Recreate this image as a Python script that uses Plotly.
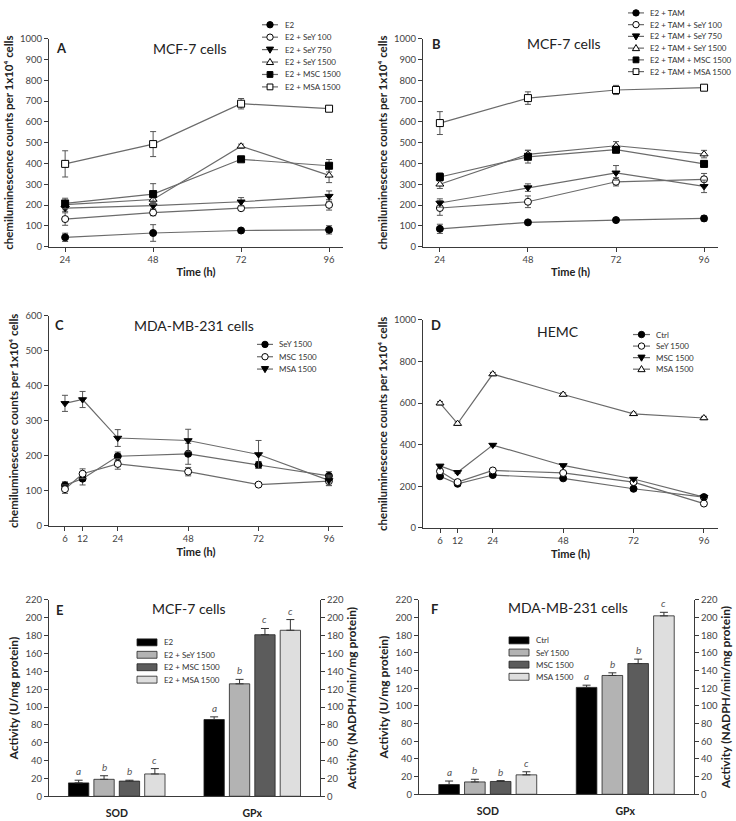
import plotly.graph_objects as go

W, H = 736, 821

# ---------------- data ----------------
A_time = [24, 48, 72, 96]
A_names = ["E2", "E2 + SeY 100", "E2 + SeY 750", "E2 + SeY 1500", "E2 + MSC 1500", "E2 + MSA 1500"]
A_vals = [
    [45, 66, 78, 81],
    [133, 164, 185, 201],
    [185, 197, 216, 243],
    [202, 227, 483, 343],
    [208, 253, 420, 389],
    [398, 493, 687, 663],
]
A_errs = [
    [20, 40, 8, 20],
    [30, 15, 10, 25],
    [15, 15, 20, 25],
    [20, 20, 10, 35],
    [25, 50, 6, 30],
    [63, 60, 25, 10],
]

B_time = [24, 48, 72, 96]
B_names = ["E2 + TAM", "E2 + TAM + SeY 100", "E2 + TAM + SeY 750", "E2 + TAM + SeY 1500",
           "E2 + TAM + MSC 1500", "E2 + TAM + MSA 1500"]
B_vals = [
    [86, 117, 128, 136],
    [186, 216, 312, 324],
    [210, 284, 355, 290],
    [300, 444, 485, 445],
    [335, 432, 466, 398],
    [594, 714, 753, 764],
]
B_errs = [
    [22, 8, 8, 12],
    [35, 28, 20, 28],
    [20, 18, 35, 30],
    [20, 20, 20, 18],
    [20, 30, 15, 15],
    [55, 30, 22, 8],
]

C_time = [6, 12, 24, 48, 72, 96]
C_names = ["SeY 1500", "MSC 1500", "MSA 1500"]
C_vals = [
    [116, 135, 199, 206, 174, 143],
    [105, 149, 177, 155, 118, 128],
    [350, 361, 251, 244, 204, 130],
]
C_errs = [
    [10, 18, 12, 30, 10, 12],
    [12, 14, 15, 12, 2, 12],
    [23, 23, 24, 32, 40, 15],
]

D_time = [6, 12, 24, 48, 72, 96]
D_names = ["Ctrl", "SeY 1500", "MSC 1500", "MSA 1500"]
D_vals = [
    [248, 212, 254, 238, 188, 148],
    [272, 220, 276, 264, 220, 117],
    [298, 267, 398, 300, 235, 148],
    [599, 501, 739, 641, 548, 528],
]
D_errs = [
    [6, 6, 6, 6, 6, 6],
    [6, 6, 6, 6, 6, 6],
    [6, 6, 6, 6, 6, 6],
    [8, 8, 8, 8, 8, 8],
]

enzymes = ["SOD", "GPx"]
E_names = ["E2", "E2 + SeY 1500", "E2 + MSC 1500", "E2 + MSA 1500"]
E_vals = [[15, 86], [19, 126], [17, 181], [25, 186]]
E_errs = [[3, 3], [4, 5], [1, 7], [6, 12]]
E_letters = [["a", "a"], ["b", "b"], ["b", "c"], ["c", "c"]]

F_names = ["Ctrl", "SeY 1500", "MSC 1500", "MSA 1500"]
F_vals = [[11, 121], [14, 134.5], [14.5, 148], [22, 202]]
F_errs = [[4, 2.5], [3, 3], [1, 5], [3.5, 4]]
F_letters = [["a", "a"], ["b", "b"], ["b", "b"], ["c", "c"]]

# ---------------- styles ----------------
FONT = "Lato, 'Open Sans', sans-serif"
AX = "#3a3a3a"
LINE_C = "#6b6b6b"
TICKF = dict(size=9.5, color="#444", family=FONT)
line_symbols = [("circle", "black"), ("circle", "white"), ("triangle-down", "black"),
                ("triangle-up", "white"), ("square", "black"), ("square", "white")]
D_symbols = [("circle", "black"), ("circle", "white"), ("triangle-down", "black"), ("triangle-up", "white")]
bar_colors = ["#000000", "#b3b3b3", "#5c5c5c", "#dedede"]
BARGAP = 0.25
LEG_FS = 8


def fx(px):
    return px / W


def fy(py):
    return 1 - py / H


fig = go.Figure()


def add_lines(t, vals, errs, names, syms, xa, ya):
    for v, e, n, (s, fc) in zip(vals, errs, names, syms):
        fig.add_trace(go.Scatter(
            x=t, y=v, name=n, mode="lines+markers", xaxis=xa, yaxis=ya, showlegend=False,
            line=dict(color=LINE_C, width=1.2),
            marker=dict(symbol=s, size=7, color=fc, line=dict(color="black", width=1)),
            error_y=dict(type="data", array=e, color="#555", thickness=1, width=3),
        ))


add_lines(A_time, A_vals, A_errs, A_names, line_symbols, "x", "y")
add_lines(B_time, B_vals, B_errs, B_names, line_symbols, "x2", "y2")
add_lines(C_time, C_vals, C_errs, C_names, line_symbols[:3], "x3", "y3")
add_lines(D_time, D_vals, D_errs, D_names, D_symbols, "x4", "y4")


def add_bars(vals, errs, names, xa, yas):
    # SOD on the left axis (U/mg protein), GPx on the right axis (NADPH/min/mg protein)
    for k, cat in enumerate(enzymes):
        for v, e, n, c in zip(vals, errs, names, bar_colors):
            fig.add_trace(go.Bar(
                x=[cat], y=[v[k]], name=n, xaxis=xa, yaxis=yas[k], showlegend=False,
                marker=dict(color=c, line=dict(color="#222", width=0.8)),
                error_y=dict(type="data", array=[e[k]], arrayminus=[0], symmetric=False,
                             color="#333", thickness=1, width=4),
            ))


add_bars(E_vals, E_errs, E_names, "x5", ["y5", "y7"])
add_bars(F_vals, F_errs, F_names, "x6", ["y6", "y8"])

# ---------------- axes ----------------
ytitle = "<b>chemiluminescence counts per 1x10\u2074 cells</b>"


def xline(dom, rng, ticks, anchor):
    return dict(domain=[fx(dom[0]), fx(dom[1])], range=rng, tickvals=ticks, anchor=anchor,
                showline=True, linecolor=AX, linewidth=1, ticks="outside", ticklen=4, tickcolor=AX,
                showgrid=False, zeroline=False, tickfont=TICKF,
                title=dict(text="<b>Time (h)</b>", font=dict(size=11, color="#222", family=FONT), standoff=4))


def yline(dom, rng, dtick, anchor):
    return dict(domain=[fy(dom[1]), fy(dom[0])], range=rng, dtick=dtick, anchor=anchor,
                showline=True, linecolor=AX, linewidth=1, ticks="outside", ticklen=4, tickcolor=AX,
                showgrid=False, zeroline=False, tickfont=TICKF,
                title=dict(text=ytitle, font=dict(size=11.5, color="#222", family=FONT), standoff=4))


def xbar(dom, anchor):
    return dict(domain=[fx(dom[0]), fx(dom[1])], range=[-0.5, 1.5], anchor=anchor,
                showline=True, linecolor=AX, linewidth=1, ticks="", showgrid=False, zeroline=False,
                ticklabelstandoff=7,
                tickfont=dict(size=10.5, color="#222", family=FONT), tickprefix="<b>", ticksuffix="</b>")


def ybar(dom, anchor, title, side="left", overlay=None):
    d = dict(range=[0, 220], dtick=20, anchor=anchor, side=side,
             showline=True, linecolor=AX, linewidth=1, ticks="outside", ticklen=4, tickcolor=AX,
             showgrid=False, zeroline=False, tickfont=TICKF,
             title=dict(text=title, font=dict(size=12, color="#222", family=FONT), standoff=4))
    if overlay:
        d["overlaying"] = overlay
    else:
        d["domain"] = [fy(dom[1]), fy(dom[0])]
    return d


A_dom = ([49, 343], [33, 244])
B_dom = ([423, 718], [33, 244])
C_dom = ([49, 343], [314, 527])
D_dom = ([423, 718], [318, 529])
E_dom = ([49, 320], [602, 801])
F_dom = ([419, 694], [602, 799])

fig.update_layout(
    xaxis=xline(A_dom[0], [19.6, 99.8], A_time, "y"),
    yaxis=yline(A_dom[1], [0, 1000], 100, "x"),
    xaxis2=xline(B_dom[0], [19.4, 99.8], B_time, "y2"),
    yaxis2=yline(B_dom[1], [0, 1000], 100, "x2"),
    xaxis3=xline(C_dom[0], [0.55, 100.8], C_time, "y3"),
    yaxis3=yline(C_dom[1], [0, 600], 100, "x3"),
    xaxis4=xline(D_dom[0], [0.2, 100.8], D_time, "y4"),
    yaxis4=yline(D_dom[1], [0, 1000], 200, "x4"),
    xaxis5=xbar(E_dom[0], "y5"),
    yaxis5=ybar(E_dom[1], "x5", "<b>Activity (U/mg protein)</b>"),
    yaxis7=ybar(E_dom[1], "x5", "<b>Activity (NADPH/min/mg protein)</b>", side="right", overlay="y5"),
    xaxis6=xbar(F_dom[0], "y6"),
    yaxis6=ybar(F_dom[1], "x6", "<b>Activity (U/mg protein)</b>"),
    yaxis8=ybar(F_dom[1], "x6", "<b>Activity (NADPH/min/mg protein)</b>", side="right", overlay="y6"),
    barmode="group", bargap=BARGAP, bargroupgap=0.2,
    width=W, height=H, margin=dict(l=0, r=0, t=0, b=0),
    paper_bgcolor="white", plot_bgcolor="white",
    font=dict(family=FONT, color="#222"),
    showlegend=False,
)

# ---------------- panel labels and titles ----------------
ann = []
shapes = []


def text(px, py, s, size, anchor="center", bold=False):
    ann.append(dict(x=fx(px), y=fy(py), xref="paper", yref="paper", text=("<b>%s</b>" % s) if bold else s,
                    showarrow=False, xanchor=anchor, yanchor="middle",
                    font=dict(size=size, color="#222", family=FONT)))


text(54, 43, "A", 13, "left", True)
text(190, 43, "MCF-7 cells", 14)
text(430, 39, "B", 13, "left", True)
text(564, 38, "MCF-7 cells", 14)
text(53, 323, "C", 13, "left", True)
text(194, 324, "MDA-MB-231 cells", 14)
text(429, 323, "D", 13, "left", True)
text(558, 330, "HEMC", 14)
text(54, 612, "E", 13, "left", True)
text(189, 611, "MCF-7 cells", 14)
text(429, 611, "F", 13, "left", True)
text(568, 610, "MDA-MB-231 cells", 14)


# ---------------- legends (drawn from the name lists) ----------------
def marker_shape(xc, yc, sym, fill, r=3.2):
    base = dict(xref="paper", yref="paper", xsizemode="pixel", ysizemode="pixel",
                xanchor=fx(xc), yanchor=fy(yc), fillcolor=fill, line=dict(color="black", width=1), layer="above")
    if sym == "circle":
        base.update(type="circle", x0=-r, x1=r, y0=-r, y1=r)
    elif sym == "square":
        base.update(type="rect", x0=-r + 0.3, x1=r - 0.3, y0=-r + 0.3, y1=r - 0.3)
    elif sym == "triangle-up":
        base.update(type="path", path="M-3.6,-2.5 L3.6,-2.5 L0,3.6 Z")
    else:
        base.update(type="path", path="M-3.6,2.5 L3.6,2.5 L0,-3.6 Z")
    shapes.append(base)


def line_legend(names, syms, x0, x1, tx, y0, dy):
    for i, (n, (s, fc)) in enumerate(zip(names, syms)):
        y = y0 + i * dy
        shapes.append(dict(type="line", xref="paper", yref="paper", x0=fx(x0), x1=fx(x1), y0=fy(y), y1=fy(y),
                           line=dict(color=LINE_C, width=1.2)))
        marker_shape((x0 + x1) / 2, y, s, fc)
        ann.append(dict(x=fx(tx), y=fy(y), xref="paper", yref="paper", text=n, showarrow=False,
                        xanchor="left", yanchor="middle", font=dict(size=LEG_FS, color="#333", family=FONT)))


def bar_legend(names, x0, x1, tx, y0, dy):
    for i, (n, c) in enumerate(zip(names, bar_colors)):
        y = y0 + i * dy
        shapes.append(dict(type="rect", xref="paper", yref="paper", x0=fx(x0), x1=fx(x1),
                           y0=fy(y + 3.5), y1=fy(y - 3.5), fillcolor=c, line=dict(color="#222", width=0.8)))
        ann.append(dict(x=fx(tx), y=fy(y), xref="paper", yref="paper", text=n, showarrow=False,
                        xanchor="left", yanchor="middle", font=dict(size=LEG_FS, color="#333", family=FONT)))


line_legend(A_names, line_symbols, 262, 278, 283, 19, 12.6)
line_legend(B_names, line_symbols, 628, 644, 648, 7, 11.9)
line_legend(C_names, line_symbols[:3], 257, 273, 277, 343, 12.5)
line_legend(D_names, D_symbols, 633, 650, 654, 333, 11.7)
bar_legend(E_names, 137, 157, 162, 645, 12.6)
bar_legend(F_names, 509, 529, 534, 643, 12.3)


# ---------------- significance letters ----------------
def letters(vals, errs, lets, xa, yas, plot_w):
    slot = (1 - BARGAP) * (plot_w / 2) / len(vals)
    for j, (v, e, l) in enumerate(zip(vals, errs, lets)):
        for k, cat in enumerate(enzymes):
            ann.append(dict(x=cat, y=v[k] + e[k], xref=xa, yref=yas[k], text="<i>%s</i>" % l[k], showarrow=False,
                            xanchor="center", yanchor="bottom", yshift=1,
                            xshift=(j - (len(vals) - 1) / 2) * slot,
                            font=dict(size=10, color="#555", family=FONT)))


letters(E_vals, E_errs, E_letters, "x5", ["y5", "y7"], E_dom[0][1] - E_dom[0][0])
letters(F_vals, F_errs, F_letters, "x6", ["y6", "y8"], F_dom[0][1] - F_dom[0][0])

fig.update_layout(annotations=ann, shapes=shapes)
fig.write_html("out.html", config={"displayModeBar": False},
               post_script="document.body.style.margin='0';document.body.style.padding='0';"
                           "document.body.style.overflow='hidden';")
